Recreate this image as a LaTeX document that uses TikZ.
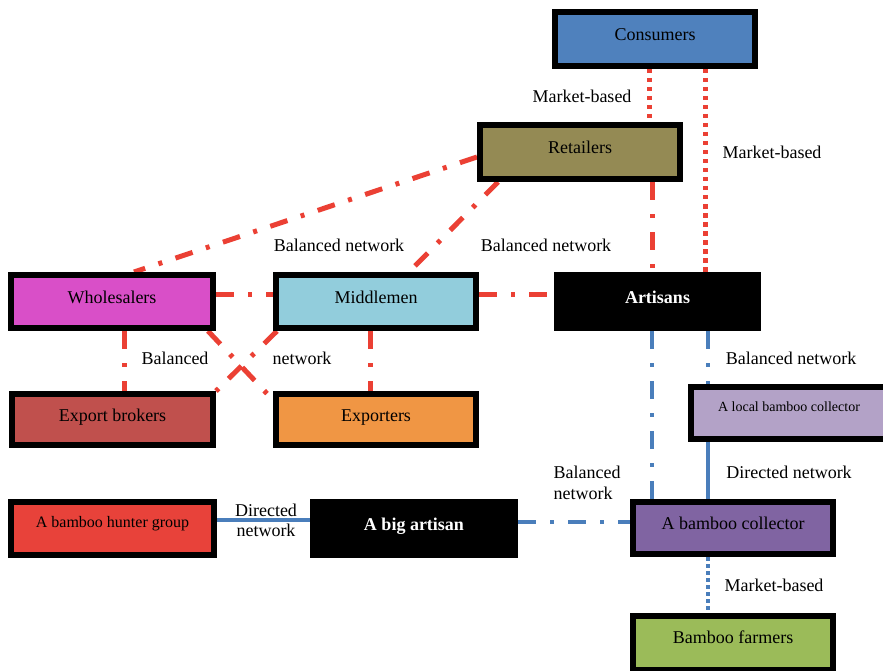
\documentclass[tikz,border=0pt]{standalone}
\usepackage{fontspec}
\setmainfont{Liberation Serif}
\usetikzlibrary{calc,shadows,backgrounds}
\definecolor{cCons}{HTML}{4F81BD}
\definecolor{cRet}{HTML}{948A54}
\definecolor{cWhole}{HTML}{D94FC8}
\definecolor{cMid}{HTML}{92CDDC}
\definecolor{cExb}{HTML}{C0504D}
\definecolor{cExp}{HTML}{F09644}
\definecolor{cLoc}{HTML}{B3A2C7}
\definecolor{cHunt}{HTML}{E8423A}
\definecolor{cBcol}{HTML}{8064A2}
\definecolor{cFarm}{HTML}{9BBB59}
\definecolor{cRed}{HTML}{EB4034}
\definecolor{cBlue}{HTML}{4A7EBB}
\tikzset{
  box/.style={draw=black, line width=6pt, inner sep=0pt,
    font=\fontsize{18}{20}\selectfont, text height=12pt, text depth=9pt,
    drop shadow={shadow xshift=3pt, shadow yshift=-3pt, opacity=0.3, fill=black}},
  blackbox/.style={box, fill=black, text=white, font=\fontsize{18}{20}\selectfont\bfseries},
  lbl/.style={font=\fontsize{18}{21}\selectfont, inner sep=0pt},
  redline/.style={draw=cRed, line width=5pt},
  blueline/.style={draw=cBlue, line width=4pt},
  dashdotpat/.style={dash pattern=on 18pt off 14pt on 4pt off 14pt},
  dotpat/.style={dash pattern=on 4.5pt off 4.5pt},
  bdotpat/.style={dash pattern=on 4pt off 3pt}
}
\begin{document}
\begin{tikzpicture}[x=1pt,y=-1pt]
\useasboundingbox (0,0) rectangle (883,671);
% boxes
\node[box, fill=cCons, minimum width=200pt, minimum height=54pt] (cons) at (655,39) {Consumers};
\node[box, fill=cRet, minimum width=200pt, minimum height=54pt] (ret) at (580,152) {Retailers};
\node[box, fill=cWhole, minimum width=202pt, minimum height=53pt] (whole) at (112,301.5) {Wholesalers};
\node[box, fill=cMid, minimum width=200pt, minimum height=53pt] (mid) at (376,301.5) {Middlemen};
\node[blackbox, minimum width=201pt, minimum height=53pt] (art) at (657.5,301.5) {Artisans};
\node[box, fill=cExb, minimum width=201pt, minimum height=51pt] (exb) at (112.5,419.5) {Export brokers};
\node[box, fill=cExp, minimum width=200pt, minimum height=51pt] (exp) at (376,419.5) {Exporters};
\node[box, fill=cLoc, minimum width=196pt, minimum height=52pt, font=\fontsize{14}{16}\selectfont, text height=8pt, text depth=11pt] (loc) at (789,413) {A local bamboo collector};
\node[box, fill=cHunt, minimum width=203pt, minimum height=53pt, font=\fontsize{16}{18}\selectfont, text height=10pt, text depth=11.5pt] (hunt) at (112.5,528.5) {A bamboo hunter group};
\node[blackbox, minimum width=202pt, minimum height=53pt] (big) at (414,528.5) {A big artisan};
\node[box, fill=cBcol, minimum width=200pt, minimum height=52pt] (bcol) at (733,528) {A bamboo collector};
\node[box, fill=cFarm, minimum width=200pt, minimum height=54pt, text depth=11pt] (farm) at (733,643) {Bamboo farmers};
% connectors
\begin{scope}[on background layer]
\draw[redline, dotpat] ($(cons.south)+(-6,0)$) -- ($(ret.north)+(69,0)$);
\draw[redline, dotpat] ($(cons.south)+(50,0)$) -- ($(art.north)+(47.5,0)$);
\draw[redline, dashdotpat] ($(ret.south)+(72,0)$) -- ($(art.north)+(-5.5,0)$);
\draw[redline, dashdotpat] ($(ret.west)+(0,5)$) -- ($(whole.north)+(22,0)$);
\draw[redline, dashdotpat] ($(ret.south)+(-82,0)$) -- ($(mid.north)+(33,0)$);
\draw[redline, dashdotpat] ($(whole.east)+(0,-7.5)$) -- ($(mid.west)+(0,-7.5)$);
\draw[redline, dashdotpat] ($(mid.east)+(0,-7.5)$) -- ($(art.west)+(0,-7.5)$);
\draw[redline, dashdotpat] ($(whole.south)+(12,0)$) -- ($(exb.north)+(11.5,0)$);
\draw[redline, dashdotpat] ($(mid.south)+(-6,0)$) -- ($(exp.north)+(-6,0)$);
\draw[redline, dashdotpat] ($(whole.south)+(96,0)$) -- ($(exp.west)+(0,-19.5)$);
\draw[redline, dashdotpat] ($(mid.south)+(-99,0)$) -- ($(exb.north)+(103.5,0)$);
\draw[blueline, dashdotpat] ($(art.south)+(-5.5,0)$) -- ($(bcol.north)+(-81,0)$);
\draw[blueline, dashdotpat] ($(art.south)+(50.5,0)$) -- ($(loc.north)+(-81,0)$);
\draw[blueline] ($(loc.south)+(-81,0)$) -- ($(bcol.north)+(-25,0)$);
\draw[blueline, dashdotpat] ($(big.east)+(0,-6.5)$) -- ($(bcol.west)+(0,-6)$);
\draw[blueline] ($(hunt.east)+(0,-8.5)$) -- ($(big.west)+(0,-8.5)$);
\draw[blueline, bdotpat] ($(bcol.south)+(-25,0)$) -- ($(farm.north)+(-25,0)$);
\end{scope}
% labels
\node[lbl] (l1) at (582,96) {Market-based};
\node[lbl] (l2) at (772,152) {Market-based};
\node[lbl] (l3) at (339,245) {Balanced network};
\node[lbl] (l4) at (546,245) {Balanced network};
\node[lbl] (l5) at (175,358) {Balanced};
\node[lbl] (l6) at (302,358) {network};
\node[lbl] (l7) at (791,358) {Balanced network};
\node[lbl] (l8) at (789,472) {Directed network};
\node[lbl, align=left] (l9) at (587,483) {Balanced\\network};
\node[lbl, align=center, font=\fontsize{18}{20}\selectfont] (l10) at (266,520) {Directed\\network};
\node[lbl] (l11) at (774,585) {Market-based};
\end{tikzpicture}
\end{document}
